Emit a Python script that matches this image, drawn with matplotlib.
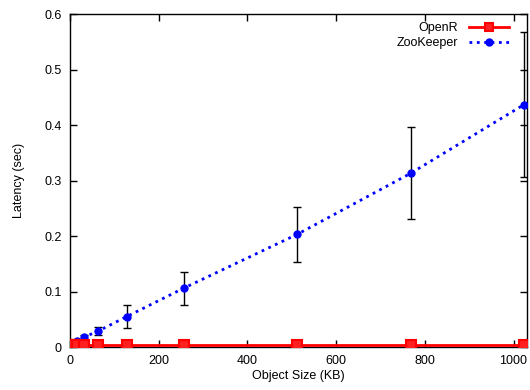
import numpy as np
import matplotlib.pyplot as plt
from matplotlib.lines import Line2D

plt.rcParams['font.family'] = ['Liberation Sans', 'DejaVu Sans']
plt.rcParams['font.size'] = 9

# object sizes (KB)
sizes = [1, 2, 4, 8, 16, 32, 64, 128, 256, 512, 768, 1024]

# latency (sec)
openr_mean = [0.003, 0.003, 0.003, 0.003, 0.003, 0.003, 0.003, 0.003, 0.003, 0.003, 0.003, 0.003]
openr_err = [0.0005, 0.0005, 0.0005, 0.0005, 0.0005, 0.0005, 0.0005, 0.0005, 0.0005, 0.0005, 0.0005, 0.0005]
zk_mean = [0.003, 0.004, 0.006, 0.008, 0.011, 0.018, 0.029, 0.055, 0.106, 0.203, 0.313, 0.437]
zk_err = [0.001, 0.001, 0.001, 0.002, 0.002, 0.003, 0.007, 0.02, 0.03, 0.05, 0.083, 0.13]

fig = plt.figure(figsize=(5.3, 3.9), dpi=100)
ax = fig.add_axes([0.132, 0.110, 0.862, 0.854])

openr_style = dict(color='red', lw=2, marker='s', ms=7, mfc='#ff2020',
                   mec='red', mew=1.5)
zk_style = dict(color='blue', lw=2, ls=':', marker='o', ms=5, mfc='blue',
                mec='blue')

ax.errorbar(sizes, openr_mean, yerr=openr_err, ecolor='black', elinewidth=1,
            capsize=3, zorder=4, **openr_style)
ax.errorbar(sizes, zk_mean, yerr=zk_err, ecolor='black', elinewidth=1,
            capsize=3, zorder=3, **zk_style)

ax.set_xlim(0, 1030)
ax.set_ylim(0, 0.6)
ax.set_xticks([0, 200, 400, 600, 800, 1000])
ax.set_yticks([0, 0.1, 0.2, 0.3, 0.4, 0.5, 0.6])
ax.set_yticklabels(['0', '0.1', '0.2', '0.3', '0.4', '0.5', '0.6'])
ax.tick_params(direction='in', top=True, right=True, length=5, width=1, pad=6)
for s in ax.spines.values():
    s.set_linewidth(1)

ax.set_xlabel('Object Size (KB)', labelpad=2)
ax.set_ylabel('Latency (sec)', labelpad=14)

handles = [Line2D([], [], **dict(openr_style, ms=6)),
           Line2D([], [], **dict(zk_style, ms=5))]
ax.legend(handles, ['OpenR', 'ZooKeeper'], loc='upper right', frameon=False,
          bbox_to_anchor=(0.975, 0.995), markerfirst=False, handlelength=3.2,
          borderaxespad=0.1, labelspacing=0.25, handletextpad=0.9,
          numpoints=1)

fig.savefig('out.png', dpi=100)
